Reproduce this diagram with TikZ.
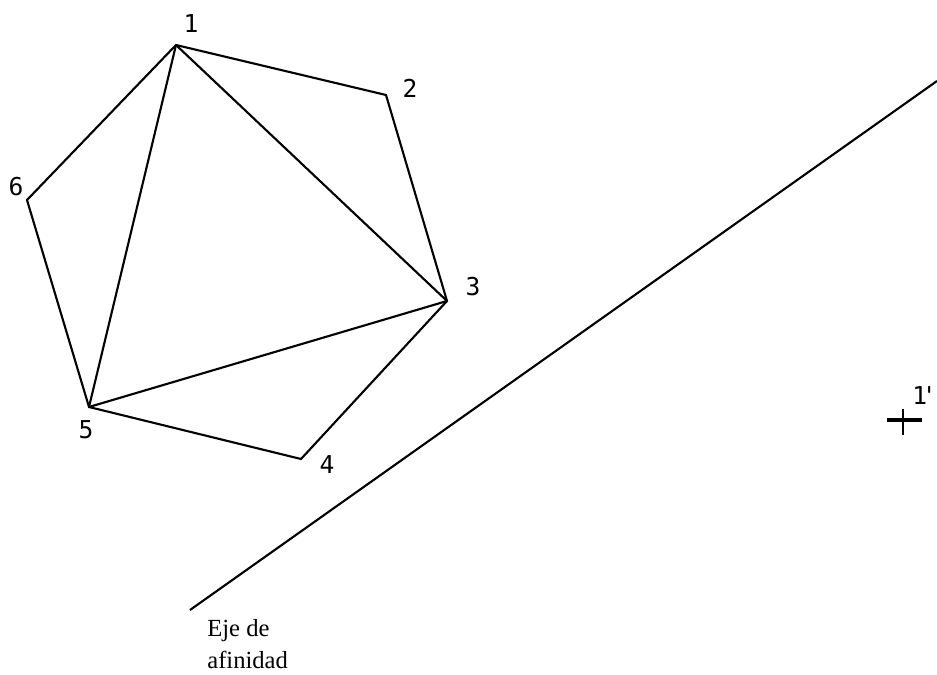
\documentclass[tikz,border=0pt]{standalone}
\usepackage{fontspec}
\setmainfont{Liberation Serif}
\newfontfamily\digitfont{DejaVu Sans Mono}
\usetikzlibrary{positioning}
\begin{document}
\begin{tikzpicture}[
    x=0.02cm, y=-0.02cm,
    edge/.style={draw, line width=1.2pt},
    numlabel/.style={font=\digitfont\fontsize{14}{14}\selectfont, inner sep=0pt},
    caption/.style={font=\fontsize{14}{18.1}\selectfont, inner sep=0pt, align=left, anchor=north west}
]
    \useasboundingbox (0,0) rectangle (937,675);
    \coordinate (p1) at (176,45);
    \coordinate (p2) at (386,95);
    \coordinate (p3) at (447,301);
    \coordinate (p4) at (301,459);
    \coordinate (p5) at (89,407);
    \coordinate (p6) at (27,200);
    \coordinate (axisa) at (190,610);
    \coordinate (axisb) at (937,81);
    \coordinate (markl) at (887,420);
    \coordinate (markr) at (922,420);
    \coordinate (markt) at (903,409);
    \coordinate (markb) at (903,435);

    \draw[edge] (p1) -- (p2) -- (p3) -- (p4) -- (p5) -- (p6) -- cycle;
    \draw[edge] (p1) -- (p3);
    \draw[edge] (p1) -- (p5);
    \draw[edge] (p3) -- (p5);
    \draw[edge] (axisa) -- (axisb);
    \draw[line width=2.2pt] (markl) -- (markr);
    \draw[edge] (markt) -- (markb);

    \node[numlabel] (n1) at (191,24) {1};
    \node[numlabel] (n2) at (410,88) {2};
    \node[numlabel] (n3) at (473,287) {3};
    \node[numlabel] (n4) at (327,465) {4};
    \node[numlabel] (n5) at (86,430) {5};
    \node[numlabel] (n6) at (16,187) {6};
    \node[numlabel] (n7) at (924.5,396) {1\kern-3pt'};
    \node[caption] (cap) at (207,619) {Eje de\\afinidad};
\end{tikzpicture}
\end{document}
